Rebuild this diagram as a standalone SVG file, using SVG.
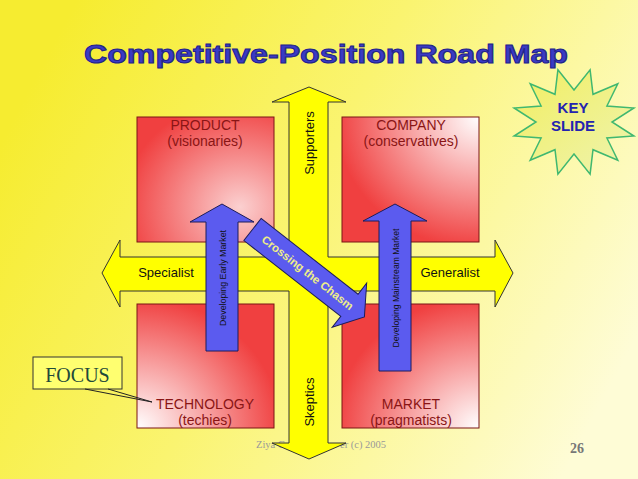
<svg xmlns="http://www.w3.org/2000/svg" width="638" height="479" viewBox="0 0 638 479">
<defs>
<linearGradient id="bg" x1="0" y1="0.3" x2="1" y2="0.7">
<stop offset="0" stop-color="#f6ec30"/>
<stop offset="0.45" stop-color="#faf470"/>
<stop offset="1" stop-color="#fefcd6"/>
</linearGradient>
<radialGradient id="gProd" cx="0.75" cy="0.72" r="0.85">
<stop offset="0" stop-color="#fbd0d0"/>
<stop offset="1" stop-color="#f04040"/>
</radialGradient>
<radialGradient id="gComp" cx="1" cy="0" r="1.05">
<stop offset="0" stop-color="#ffffff"/>
<stop offset="1" stop-color="#f04040"/>
</radialGradient>
<radialGradient id="gTech" cx="0" cy="1" r="1.05">
<stop offset="0" stop-color="#ffffff"/>
<stop offset="1" stop-color="#f04040"/>
</radialGradient>
<radialGradient id="gMark" cx="1" cy="1" r="1.05">
<stop offset="0" stop-color="#ffffff"/>
<stop offset="1" stop-color="#f04040"/>
</radialGradient>
<linearGradient id="gStar" x1="0" y1="0" x2="1" y2="1">
<stop offset="0" stop-color="#f2ee60"/>
<stop offset="1" stop-color="#eef4b0"/>
</linearGradient>
<style>
.box{stroke:#7a1414;stroke-width:1}
.blab{font-family:"Liberation Sans",Arial,sans-serif;font-size:14px;fill:#8a1515;text-anchor:middle}
.xlab{font-family:"Liberation Sans",Arial,sans-serif;font-size:13px;fill:#111;text-anchor:middle}
.blue{fill:#5b5bef;stroke:#1c1c5a;stroke-width:1}
.btxt{font-family:"Liberation Sans",Arial,sans-serif;fill:#111;text-anchor:middle}
</style>
</defs>
<rect x="0" y="0" width="638" height="479" fill="url(#bg)"/>
<g id="title">
<text x="326" y="63" font-family="'Liberation Sans',Arial,sans-serif" font-weight="bold" font-size="26" fill="#3a3ac4" stroke="#22228a" stroke-width="1" text-anchor="middle" textLength="484" lengthAdjust="spacingAndGlyphs">Competitive-Position Road Map</text>
</g>
<g id="footer">
<text x="256" y="448" font-family="'Liberation Serif','Times New Roman',serif" font-size="10.5" fill="#999">Ziya G</text>
<text x="340" y="448" font-family="'Liberation Serif','Times New Roman',serif" font-size="10.5" fill="#999">er (c) 2005</text>
<text x="577" y="453" font-family="'Liberation Serif','Times New Roman',serif" font-weight="bold" font-size="14" fill="#777" text-anchor="middle">26</text>
</g>
<g id="cross">
<polygon points="309,87 346,102 328,102 328,257 495,257 495,240 513,273 495,307 495,291 328,291 328,443 346,443 309,459 272,443 289,443 289,291 120,291 120,307 102,273 120,240 120,257 289,257 289,102 272,102" fill="#ffff00" stroke="#333" stroke-width="1"/>
<text class="xlab" transform="translate(314,143) rotate(-90)">Supporters</text>
<text class="xlab" transform="translate(314,402) rotate(-90)">Skeptics</text>
<text class="xlab" x="166" y="277">Specialist</text>
<text class="xlab" x="450" y="277">Generalist</text>
</g>
<g id="product">
<rect class="box" x="137" y="117" width="137" height="125" fill="url(#gProd)"/>
<text class="blab" x="205" y="130">PRODUCT</text>
<text class="blab" x="205" y="146">(visionaries)</text>
</g>
<g id="company">
<rect class="box" x="342" y="117" width="137" height="125" fill="url(#gComp)"/>
<text class="blab" x="411" y="130">COMPANY</text>
<text class="blab" x="411" y="146">(conservatives)</text>
</g>
<g id="technology">
<rect class="box" x="137" y="304" width="137" height="124" fill="url(#gTech)"/>
<text class="blab" x="205" y="409">TECHNOLOGY</text>
<text class="blab" x="205" y="425">(techies)</text>
</g>
<g id="market">
<rect class="box" x="342" y="304" width="137" height="124" fill="url(#gMark)"/>
<text class="blab" x="411" y="409">MARKET</text>
<text class="blab" x="411" y="425">(pragmatists)</text>
</g>
<g id="early-market">
<polygon class="blue" points="222,204 254,222 238,222 238,351 206,351 206,222 190,222"/>
<text class="btxt" font-size="9" transform="translate(225.5,278) rotate(-90)" textLength="96" lengthAdjust="spacingAndGlyphs">Developing Early Market</text>
</g>
<g id="mainstream-market">
<polygon class="blue" points="395,204 427,221 411,221 411,371 379,371 379,221 363,221"/>
<text class="btxt" font-size="9" transform="translate(398.5,288) rotate(-90)" textLength="119" lengthAdjust="spacingAndGlyphs">Developing Mainstream Market</text>
</g>
<g id="crossing-chasm" transform="translate(252.5,229.5) rotate(38)">
<polygon class="blue" points="0,-14 123,-14 123,-28 142,0 123,28 123,14 0,14"/>
<text x="70" y="4" font-family="'Liberation Sans',Arial,sans-serif" font-weight="bold" font-size="11.5" fill="#eeee88" text-anchor="middle" textLength="113" lengthAdjust="spacingAndGlyphs">Crossing the Chasm</text>
</g>
<g id="key-slide">
<polygon points="557.9,69.8 574,90 590.1,69.8 593,94.3 617.8,83.8 606.9,106 633.9,108 612,122 633.9,136 606.9,138 617.8,160.2 593,149.7 590.1,174.2 574,154 557.9,174.2 555,149.7 530.2,160.2 541.1,138 514.1,136 536,122 514.1,108 541.1,106 530.2,83.8 555,94.3" fill="url(#gStar)" stroke="#40b870" stroke-width="1.5"/>
<text x="573" y="113" font-family="'Liberation Sans',Arial,sans-serif" font-weight="bold" font-size="15" fill="#2424b0" text-anchor="middle">KEY</text>
<text x="573" y="131" font-family="'Liberation Sans',Arial,sans-serif" font-weight="bold" font-size="15" fill="#2424b0" text-anchor="middle">SLIDE</text>
</g>
<g id="focus">
<rect x="33" y="357" width="89" height="32" fill="#ffff70" stroke="#333" stroke-width="1"/>
<text x="77.5" y="382" font-family="'Liberation Serif','Times New Roman',serif" font-size="20" fill="#1f4a3a" text-anchor="middle">FOCUS</text>
</g>
<g id="connectors">
<polyline points="85,389 152,402 108,389" fill="none" stroke="#222" stroke-width="1"/>
</g>
</svg>
